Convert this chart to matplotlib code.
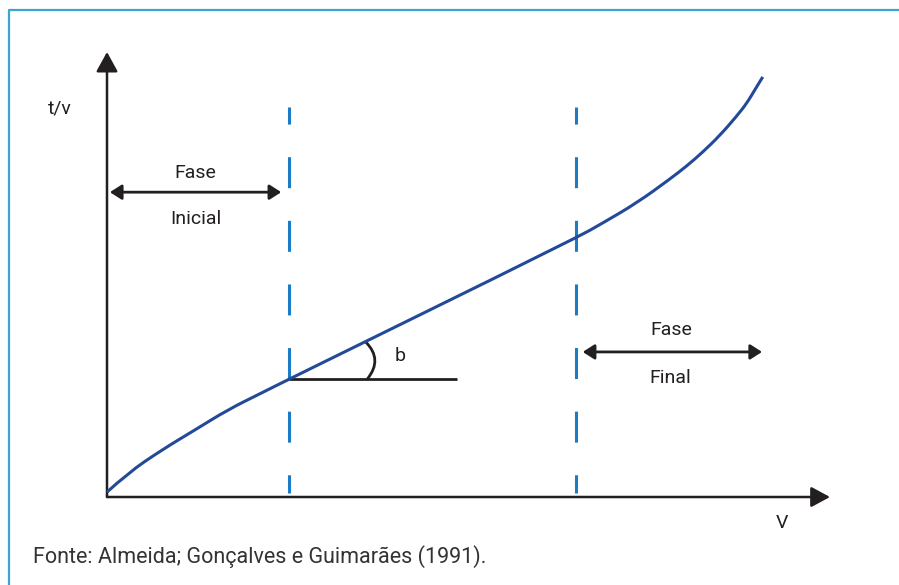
import numpy as np
import matplotlib
matplotlib.use('Agg')
import matplotlib.pyplot as plt
from matplotlib.lines import Line2D
from matplotlib.path import Path
from matplotlib.patches import PathPatch

plt.rcParams['font.family'] = ['Roboto', 'DejaVu Sans']
plt.rcParams['lines.scale_dashes'] = False

# Curve t/v versus V (schematic units, axes run 0..10)
curve_v = [0.00, 0.29, 0.76, 1.22, 1.67, 2.14, 2.52, 6.49, 6.86, 7.33,
           7.79, 8.02, 8.24, 8.48, 8.71, 8.85, 8.96, 9.07]
curve_tv = [0.11, 0.54, 1.06, 1.51, 1.96, 2.34, 2.65, 5.82, 6.16, 6.61,
            7.15, 7.44, 7.75, 8.13, 8.56, 8.85, 9.15, 9.44]

# phase limits (dashed lines)
phase_v = [2.52, 6.49]
dash_top = 8.76

# slope marker b at start of linear section
b_start = (2.52, 2.65)
b_end_v = 4.84
b_arc = [(3.60, 2.65), (3.82, 3.09), (3.58, 3.48)]

# phase arrows: (v_from, v_to, height)
initial_arrow = (0.04, 2.41, 6.85)
final_arrow = (6.58, 9.06, 3.26)

source_text = 'Fonte: Almeida; Gonçalves e Guimarães (1991).'

BLACK = '#231f20'
CURVE = '#234a98'
DASH = '#1b7bc4'
BORDER = '#3fa3d1'

W, H = 899, 585
fig = plt.figure(figsize=(W / 100, H / 100), dpi=100)
ax = fig.add_axes([107 / W, (H - 497) / H, 723 / W, 445 / H])
ax.set_xlim(0, 10)
ax.set_ylim(0, 10)
ax.axis('off')

# frame around the figure (only top and left visible)
fig.add_artist(Line2D([9 / W, 9 / W, 1.0], [0.0, 1 - 10 / H, 1 - 10 / H],
                      transform=fig.transFigure, color=BORDER, lw=1.6))

# axes with arrows
ax.annotate('', xy=(10, 0), xytext=(0, 0), annotation_clip=False,
            arrowprops=dict(arrowstyle='-|>,head_length=1.15,head_width=0.62',
                            mutation_scale=10, color=BLACK, lw=1.8,
                            shrinkA=0, shrinkB=0))
ax.annotate('', xy=(0, 10), xytext=(0, 0), annotation_clip=False,
            arrowprops=dict(arrowstyle='-|>,head_length=1.2,head_width=0.66',
                            mutation_scale=10, color=BLACK, lw=1.8,
                            shrinkA=0, shrinkB=0))

# dashed phase limits
for v in phase_v:
    ax.plot([v, v], [dash_top, 0.09], color=DASH, lw=2.2,
            linestyle=(10, (22.3, 23.5)), solid_capstyle='butt', clip_on=False)

# curve: read points drawn as a smooth path (quadratic segments between midpoints)
pts = np.column_stack([curve_v, curve_tv])
verts = [pts[0]]
codes = [Path.MOVETO]
for i in range(1, len(pts) - 1):
    mid = (pts[i] + pts[i + 1]) / 2
    if i == len(pts) - 2:
        mid = pts[i + 1]
    verts += [pts[i], mid]
    codes += [Path.CURVE3, Path.CURVE3]
ax.add_patch(PathPatch(Path(verts, codes), facecolor='none', edgecolor=CURVE,
                       lw=2.2, zorder=3, clip_on=False))

# slope angle b
ax.plot([b_start[0], b_end_v], [b_start[1], b_start[1]], color=BLACK, lw=2.0,
        solid_capstyle='butt', zorder=2)
arc = Path(b_arc, [Path.MOVETO, Path.CURVE3, Path.CURVE3])
ax.add_patch(PathPatch(arc, facecolor='none', edgecolor=BLACK, lw=2.0))
ax.text(4.05, 3.17, 'b', fontsize=14, color=BLACK, ha='center', va='center')

# phase arrows
for (v0, v1, h) in (initial_arrow, final_arrow):
    ax.annotate('', xy=(v1, h), xytext=(v0, h), annotation_clip=False,
                arrowprops=dict(arrowstyle='<|-|>,head_length=0.5,head_width=0.32',
                                mutation_scale=14, color=BLACK, lw=2.0,
                                shrinkA=0, shrinkB=0))

ax.text(1.22, 7.28, 'Fase', fontsize=14, color=BLACK, ha='center', va='center')
ax.text(1.23, 6.25, 'Inicial', fontsize=14, color=BLACK, ha='center', va='center')
ax.text(7.81, 3.75, 'Fase', fontsize=14, color=BLACK, ha='center', va='center')
ax.text(7.79, 2.67, 'Final', fontsize=14, color=BLACK, ha='center', va='center')

ax.text(-0.65, 8.74, 't/v', fontsize=14, color=BLACK, ha='center', va='center')
ax.text(9.34, -0.58, 'V', fontsize=14, color=BLACK, ha='center', va='center')

fig.text(33 / W, 1 - 563 / H, source_text, fontsize=15.5, color='#333333',
         ha='left', va='baseline')

fig.savefig('out.png', dpi=100)
